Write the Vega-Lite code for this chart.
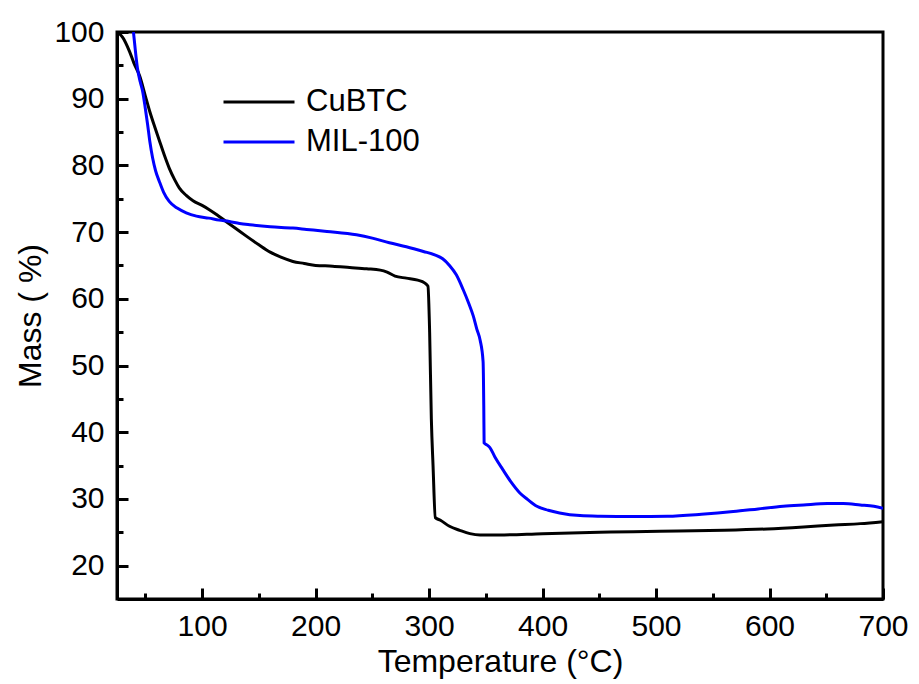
{
  "$schema": "https://vega.github.io/schema/vega-lite/v6.json",
  "autosize": {"type": "none"},
  "padding": {"left": 117, "top": 32, "right": 36, "bottom": 85},
  "width": 766,
  "height": 567,
  "background": "white",
  "config": {
    "view": {"stroke": "black", "strokeWidth": 3},
    "font": "Liberation Sans"
  },
  "datasets": {
    "tga": [
      {"sample": "CuBTC", "T": 25, "mass": 100},
      {"sample": "CuBTC", "T": 30, "mass": 99.2},
      {"sample": "CuBTC", "T": 36, "mass": 97.1},
      {"sample": "CuBTC", "T": 40, "mass": 95.3},
      {"sample": "CuBTC", "T": 45, "mass": 93.4},
      {"sample": "CuBTC", "T": 50, "mass": 90.4},
      {"sample": "CuBTC", "T": 54, "mass": 88.0},
      {"sample": "CuBTC", "T": 58, "mass": 85.9},
      {"sample": "CuBTC", "T": 62, "mass": 83.9},
      {"sample": "CuBTC", "T": 67, "mass": 81.4},
      {"sample": "CuBTC", "T": 71, "mass": 79.6},
      {"sample": "CuBTC", "T": 76, "mass": 77.8},
      {"sample": "CuBTC", "T": 80, "mass": 76.6},
      {"sample": "CuBTC", "T": 86, "mass": 75.5},
      {"sample": "CuBTC", "T": 92, "mass": 74.7},
      {"sample": "CuBTC", "T": 100, "mass": 74.0},
      {"sample": "CuBTC", "T": 106, "mass": 73.4},
      {"sample": "CuBTC", "T": 113, "mass": 72.6},
      {"sample": "CuBTC", "T": 121, "mass": 71.6},
      {"sample": "CuBTC", "T": 130, "mass": 70.5},
      {"sample": "CuBTC", "T": 139, "mass": 69.4},
      {"sample": "CuBTC", "T": 150, "mass": 68.1},
      {"sample": "CuBTC", "T": 160, "mass": 67.0},
      {"sample": "CuBTC", "T": 170, "mass": 66.2},
      {"sample": "CuBTC", "T": 180, "mass": 65.6},
      {"sample": "CuBTC", "T": 190, "mass": 65.3},
      {"sample": "CuBTC", "T": 200, "mass": 65.0},
      {"sample": "CuBTC", "T": 215, "mass": 64.9},
      {"sample": "CuBTC", "T": 230, "mass": 64.7},
      {"sample": "CuBTC", "T": 245, "mass": 64.5},
      {"sample": "CuBTC", "T": 257, "mass": 64.3},
      {"sample": "CuBTC", "T": 263, "mass": 64.0},
      {"sample": "CuBTC", "T": 270, "mass": 63.4},
      {"sample": "CuBTC", "T": 280, "mass": 63.1},
      {"sample": "CuBTC", "T": 290, "mass": 62.8},
      {"sample": "CuBTC", "T": 296, "mass": 62.4},
      {"sample": "CuBTC", "T": 299, "mass": 61.9},
      {"sample": "CuBTC", "T": 300.5, "mass": 55},
      {"sample": "CuBTC", "T": 302, "mass": 42},
      {"sample": "CuBTC", "T": 303.5, "mass": 35},
      {"sample": "CuBTC", "T": 305.5, "mass": 27.2},
      {"sample": "CuBTC", "T": 310, "mass": 26.8},
      {"sample": "CuBTC", "T": 318, "mass": 25.9},
      {"sample": "CuBTC", "T": 327, "mass": 25.3},
      {"sample": "CuBTC", "T": 336, "mass": 24.8},
      {"sample": "CuBTC", "T": 345, "mass": 24.6},
      {"sample": "CuBTC", "T": 362, "mass": 24.6},
      {"sample": "CuBTC", "T": 400, "mass": 24.8},
      {"sample": "CuBTC", "T": 450, "mass": 25.0},
      {"sample": "CuBTC", "T": 480, "mass": 25.1},
      {"sample": "CuBTC", "T": 520, "mass": 25.2},
      {"sample": "CuBTC", "T": 560, "mass": 25.3},
      {"sample": "CuBTC", "T": 598, "mass": 25.5},
      {"sample": "CuBTC", "T": 630, "mass": 25.8},
      {"sample": "CuBTC", "T": 657, "mass": 26.1},
      {"sample": "CuBTC", "T": 680, "mass": 26.3},
      {"sample": "CuBTC", "T": 700, "mass": 26.6},
      {"sample": "MIL-100", "T": 39.5, "mass": 100},
      {"sample": "MIL-100", "T": 41, "mass": 97.5},
      {"sample": "MIL-100", "T": 43, "mass": 94.6},
      {"sample": "MIL-100", "T": 45.5, "mass": 92.5},
      {"sample": "MIL-100", "T": 47.6, "mass": 91.1},
      {"sample": "MIL-100", "T": 50, "mass": 88.5},
      {"sample": "MIL-100", "T": 52, "mass": 86.1},
      {"sample": "MIL-100", "T": 54, "mass": 83.5},
      {"sample": "MIL-100", "T": 56.4, "mass": 81.1},
      {"sample": "MIL-100", "T": 59, "mass": 79.2},
      {"sample": "MIL-100", "T": 62.3, "mass": 77.6},
      {"sample": "MIL-100", "T": 66, "mass": 76.0},
      {"sample": "MIL-100", "T": 71, "mass": 74.6},
      {"sample": "MIL-100", "T": 78, "mass": 73.6},
      {"sample": "MIL-100", "T": 86, "mass": 72.9},
      {"sample": "MIL-100", "T": 95, "mass": 72.4},
      {"sample": "MIL-100", "T": 106, "mass": 72.1},
      {"sample": "MIL-100", "T": 115, "mass": 71.8},
      {"sample": "MIL-100", "T": 124, "mass": 71.6},
      {"sample": "MIL-100", "T": 133, "mass": 71.3},
      {"sample": "MIL-100", "T": 142, "mass": 71.1},
      {"sample": "MIL-100", "T": 160, "mass": 70.8},
      {"sample": "MIL-100", "T": 180, "mass": 70.6},
      {"sample": "MIL-100", "T": 192, "mass": 70.4},
      {"sample": "MIL-100", "T": 210, "mass": 70.1},
      {"sample": "MIL-100", "T": 236, "mass": 69.6},
      {"sample": "MIL-100", "T": 250, "mass": 69.1},
      {"sample": "MIL-100", "T": 265, "mass": 68.4},
      {"sample": "MIL-100", "T": 280, "mass": 67.8},
      {"sample": "MIL-100", "T": 295, "mass": 67.1},
      {"sample": "MIL-100", "T": 305, "mass": 66.6},
      {"sample": "MIL-100", "T": 312, "mass": 66.0},
      {"sample": "MIL-100", "T": 318, "mass": 65.0},
      {"sample": "MIL-100", "T": 324, "mass": 63.6},
      {"sample": "MIL-100", "T": 330, "mass": 61.4},
      {"sample": "MIL-100", "T": 335, "mass": 59.3},
      {"sample": "MIL-100", "T": 339, "mass": 57.4},
      {"sample": "MIL-100", "T": 342, "mass": 55.5},
      {"sample": "MIL-100", "T": 345, "mass": 53.8},
      {"sample": "MIL-100", "T": 347.6, "mass": 50.6},
      {"sample": "MIL-100", "T": 348.2, "mass": 44},
      {"sample": "MIL-100", "T": 348.5, "mass": 38.4},
      {"sample": "MIL-100", "T": 351, "mass": 38.1},
      {"sample": "MIL-100", "T": 353.6, "mass": 37.7},
      {"sample": "MIL-100", "T": 358, "mass": 36.3},
      {"sample": "MIL-100", "T": 365, "mass": 34.4},
      {"sample": "MIL-100", "T": 372, "mass": 32.6},
      {"sample": "MIL-100", "T": 380, "mass": 30.9},
      {"sample": "MIL-100", "T": 387, "mass": 29.9},
      {"sample": "MIL-100", "T": 395, "mass": 28.9},
      {"sample": "MIL-100", "T": 405, "mass": 28.3},
      {"sample": "MIL-100", "T": 415, "mass": 27.9},
      {"sample": "MIL-100", "T": 433, "mass": 27.5},
      {"sample": "MIL-100", "T": 451, "mass": 27.4},
      {"sample": "MIL-100", "T": 480, "mass": 27.35},
      {"sample": "MIL-100", "T": 510, "mass": 27.4},
      {"sample": "MIL-100", "T": 540, "mass": 27.7},
      {"sample": "MIL-100", "T": 568, "mass": 28.1},
      {"sample": "MIL-100", "T": 590, "mass": 28.5},
      {"sample": "MIL-100", "T": 612, "mass": 28.9},
      {"sample": "MIL-100", "T": 630, "mass": 29.1},
      {"sample": "MIL-100", "T": 651, "mass": 29.3},
      {"sample": "MIL-100", "T": 665, "mass": 29.3},
      {"sample": "MIL-100", "T": 680, "mass": 29.1},
      {"sample": "MIL-100", "T": 692, "mass": 28.9},
      {"sample": "MIL-100", "T": 700, "mass": 28.6}
    ]
  },
  "data": {"name": "tga"},
  "mark": {"type": "line", "strokeWidth": 3, "clip": true, "interpolate": "monotone"},
  "encoding": {
    "x": {
      "field": "T",
      "type": "quantitative",
      "scale": {"domain": [25, 700], "nice": false, "zero": false},
      "axis": {
        "title": "Temperature (°C)",
        "titleFont": "Liberation Sans",
        "titleFontSize": 32,
        "titleFontWeight": "normal",
        "titleColor": "black",
        "titlePadding": 0,
        "values": [50, 100, 150, 200, 250, 300, 350, 400, 450, 500, 550, 600, 650, 700],
        "labelExpr": "datum.value % 100 === 0 ? datum.label : ''",
        "labelFont": "Liberation Sans",
        "labelFontSize": 30,
        "labelColor": "black",
        "labelPadding": 23,
        "labelFlush": false,
        "labelOverlap": false,
        "grid": false,
        "domainColor": "black",
        "domainWidth": 3,
        "tickColor": "black",
        "tickWidth": 3,
        "tickSize": {"condition": {"test": "datum.value % 100 === 0", "value": -11}, "value": -6}
      }
    },
    "y": {
      "field": "mass",
      "type": "quantitative",
      "scale": {"domain": [15, 100], "nice": false, "zero": false},
      "axis": {
        "title": "Mass ( %)",
        "titleFont": "Liberation Sans",
        "titleFontSize": 32,
        "titleFontWeight": "normal",
        "titleColor": "black",
        "titlePadding": 6,
        "values": [20, 25, 30, 35, 40, 45, 50, 55, 60, 65, 70, 75, 80, 85, 90, 95, 100],
        "labelExpr": "datum.value % 10 === 0 ? datum.label : ''",
        "labelFont": "Liberation Sans",
        "labelFontSize": 30,
        "labelColor": "black",
        "labelPadding": 24,
        "labelFlush": false,
        "labelOverlap": false,
        "grid": false,
        "domainColor": "black",
        "domainWidth": 3,
        "tickColor": "black",
        "tickWidth": 3,
        "tickSize": {"condition": {"test": "datum.value % 10 === 0", "value": -11}, "value": -6}
      }
    },
    "color": {
      "field": "sample",
      "type": "nominal",
      "scale": {"domain": ["CuBTC", "MIL-100"], "range": ["#000000", "#0000ff"]},
      "legend": {
        "title": null,
        "orient": "none",
        "legendX": 105,
        "legendY": 50,
        "symbolType": "stroke",
        "symbolSize": 5041,
        "symbolStrokeWidth": 3,
        "clipHeight": 40,
        "rowPadding": 0,
        "labelFont": "Liberation Sans",
        "labelFontSize": 31,
        "labelColor": "black",
        "labelOffset": 10
      }
    }
  }
}
